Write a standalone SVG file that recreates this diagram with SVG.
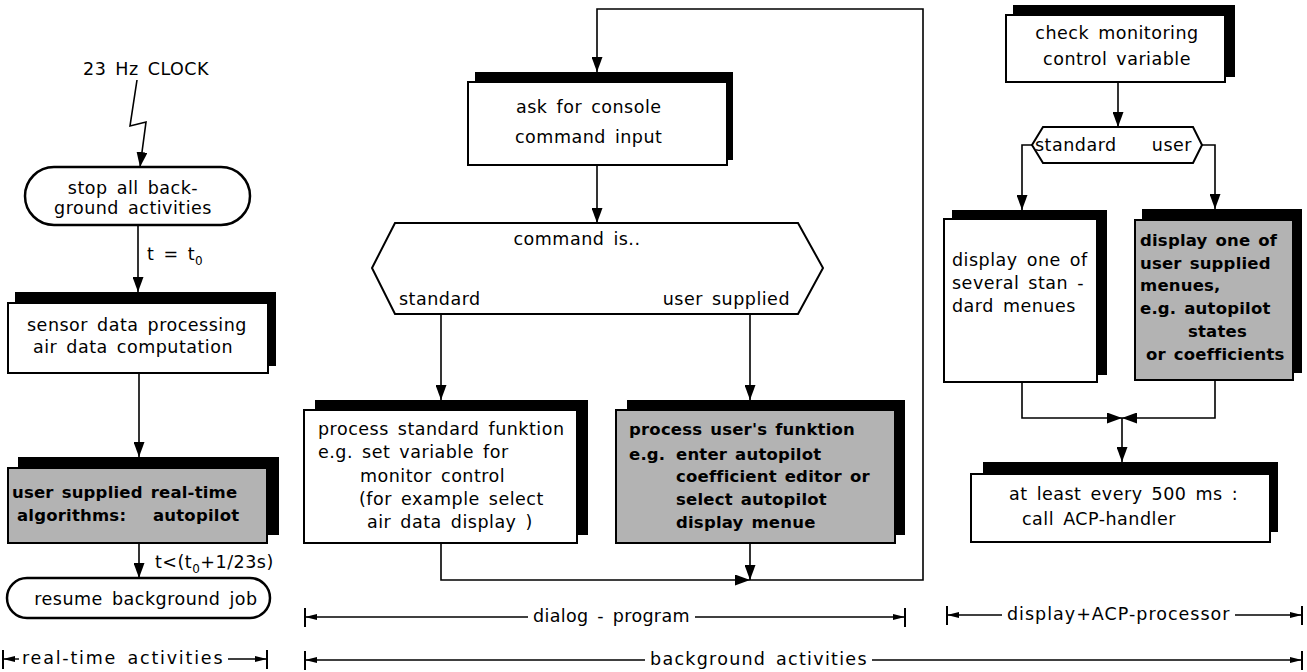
<svg xmlns="http://www.w3.org/2000/svg" width="1307" height="672" viewBox="0 0 1307 672">
<style>
.t{font-family:"DejaVu Sans","Liberation Sans",sans-serif;font-size:17.5px;letter-spacing:0.5px;word-spacing:3px;fill:#000}
.b{font-weight:bold;font-size:16.5px;letter-spacing:0.2px;word-spacing:2px}
.sh{fill:#000}
.fr{fill:#fff;stroke:#000;stroke-width:2}
.gr{fill:#b3b3b3;stroke:#000;stroke-width:2}
.ov{fill:#fff;stroke:#000;stroke-width:2.5}
.c{fill:none;stroke:#000;stroke-width:1.6}
.bar{fill:none;stroke:#000;stroke-width:1.4}
.tick{fill:none;stroke:#000;stroke-width:2}
</style>
<defs>
<marker id="ah" markerUnits="userSpaceOnUse" markerWidth="15" markerHeight="11" refX="15" refY="5.5" orient="auto">
<path d="M0,0 L15,5.5 L0,11 z" fill="#000"/>
</marker>
<marker id="sa" markerUnits="userSpaceOnUse" markerWidth="12" markerHeight="6" refX="12" refY="3" orient="auto">
<path d="M0,0 L12,3 L0,6 z" fill="#000"/>
</marker>
</defs>
<rect width="1307" height="672" fill="#fff"/>

<g id="clock">
<text class="t" x="83" y="75">23 Hz CLOCK</text>
</g>

<g id="stop">
<rect class="ov" x="25" y="167" width="225" height="58" rx="29"/>
<text class="t" x="133" y="194" text-anchor="middle">stop all back-</text>
<text class="t" x="133" y="214" text-anchor="middle">ground activities</text>
</g>

<g id="sensor">
<rect class="sh" x="15" y="292" width="261" height="74"/>
<rect class="fr" x="8" y="303" width="260" height="70"/>
<text class="t" x="27" y="331">sensor data processing</text>
<text class="t" x="33" y="353">air data computation</text>
</g>

<g id="realtime">
<rect class="sh" x="18" y="457" width="261" height="78"/>
<rect class="gr" x="8" y="468" width="259" height="75"/>
<text class="t b" x="12" y="498">user supplied real-time</text>
<text class="t b" y="521"><tspan x="17">algorithms:</tspan><tspan x="153">autopilot</tspan></text>
</g>

<g id="resume">
<rect class="ov" x="7" y="578" width="263" height="40" rx="20"/>
<text class="t" x="146" y="605" text-anchor="middle">resume background job</text>
</g>

<g id="ask">
<rect class="sh" x="475" y="72" width="258" height="88"/>
<rect class="fr" x="468" y="82" width="259" height="83"/>
<text class="t" x="516" y="113">ask for console</text>
<text class="t" x="515" y="143">command input</text>
</g>

<g id="command">
<polygon class="fr" points="395,223 798,223 823,268 798,314 395,314 372,268"/>
<text class="t" x="577" y="245" text-anchor="middle">command is..</text>
<text class="t" x="399" y="305">standard</text>
<text class="t" x="790" y="305" text-anchor="end">user supplied</text>
</g>

<g id="stdfunc">
<rect class="sh" x="315" y="400" width="273" height="135"/>
<rect class="fr" x="304" y="410" width="273" height="133"/>
<text class="t" x="318" y="435">process standard funktion</text>
<text class="t" x="318" y="458">e.g. set variable for</text>
<text class="t" x="360" y="482">monitor control</text>
<text class="t" x="359" y="505">(for example select</text>
<text class="t" x="367" y="528">air data display )</text>
</g>

<g id="userfunc">
<rect class="sh" x="627" y="400" width="278" height="135"/>
<rect class="gr" x="616" y="410" width="279" height="133"/>
<text class="t b" x="629" y="435">process user's funktion</text>
<text class="t b" y="460"><tspan x="629">e.g.</tspan><tspan x="676">enter autopilot</tspan></text>
<text class="t b" x="676" y="482">coefficient editor or</text>
<text class="t b" x="676" y="505">select autopilot</text>
<text class="t b" x="676" y="528">display menue</text>
</g>

<g id="check">
<rect class="sh" x="1013" y="5" width="222" height="72"/>
<rect class="fr" x="1006" y="15" width="219" height="67"/>
<text class="t" x="1117" y="39" text-anchor="middle">check monitoring</text>
<text class="t" x="1117" y="65" text-anchor="middle">control variable</text>
</g>

<g id="select">
<polygon class="fr" points="1043,127 1193,127 1202,145 1193,163 1043,163 1032,145"/>
<text class="t" x="1035" y="151">standard</text>
<text class="t" x="1192" y="151" text-anchor="end">user</text>
</g>

<g id="stdmenu">
<rect class="sh" x="952" y="210" width="155" height="165"/>
<rect class="fr" x="944" y="219" width="153" height="163"/>
<text class="t" x="952" y="266">display one of</text>
<text class="t" x="952" y="289">several stan -</text>
<text class="t" x="952" y="312">dard menues</text>
</g>

<g id="usermenu">
<rect class="sh" x="1142" y="209" width="160" height="164"/>
<rect class="gr" x="1135" y="220" width="158" height="160"/>
<text class="t b" x="1140" y="246">display one of</text>
<text class="t b" x="1140" y="269">user supplied</text>
<text class="t b" x="1140" y="291">menues,</text>
<text class="t b" x="1140" y="314">e.g. autopilot</text>
<text class="t b" x="1188" y="337">states</text>
<text class="t b" x="1146" y="360">or coefficients</text>
</g>

<g id="acp">
<rect class="sh" x="983" y="462" width="295" height="70"/>
<rect class="fr" x="971" y="474" width="299" height="68"/>
<text class="t" x="1009" y="500">at least every 500 ms :</text>
<text class="t" x="1022" y="525">call ACP-handler</text>
</g>

<g id="connectors">
<polyline class="c" points="137,80 130,126 146,122 140,167" marker-end="url(#ah)"/>
<path class="c" d="M138,225 L138,292" marker-end="url(#ah)"/>
<text class="t" x="147" y="260">t = t<tspan dy="5" font-size="12">0</tspan></text>
<path class="c" d="M139,373 L139,457" marker-end="url(#ah)"/>
<path class="c" d="M139,543 L139,578" marker-end="url(#ah)"/>
<text class="t" x="155" y="568">t&lt;(t<tspan dy="5" font-size="12">0</tspan><tspan dy="-5">+1/23s)</tspan></text>

<path class="c" d="M750,580 L923,580 L923,9 L597,9 L597,72" marker-end="url(#ah)"/>
<path class="c" d="M597,165 L597,223" marker-end="url(#ah)"/>
<path class="c" d="M441,314 L441,400" marker-end="url(#ah)"/>
<path class="c" d="M750,314 L750,400" marker-end="url(#ah)"/>
<path class="c" d="M441,543 L441,580 L750,580" marker-end="url(#ah)"/>
<path class="c" d="M750,543 L750,580" marker-end="url(#ah)"/>

<path class="c" d="M1118,82 L1118,127" marker-end="url(#ah)"/>
<path class="c" d="M1032,145 L1022,145 L1022,210" marker-end="url(#ah)"/>
<path class="c" d="M1202,145 L1215,145 L1215,209" marker-end="url(#ah)"/>
<path class="c" d="M1022,382 L1022,418 L1122,418" marker-end="url(#ah)"/>
<path class="c" d="M1215,380 L1215,418 L1122,418" marker-end="url(#ah)"/>
<path class="c" d="M1122,418 L1122,462" marker-end="url(#ah)"/>
</g>

<g id="scales">
<path class="tick" d="M3,650 L3,669 M267,650 L267,669"/>
<path class="bar" d="M19,659 L3,659" marker-end="url(#sa)"/>
<path class="bar" d="M228,659 L267,659" marker-end="url(#sa)"/>
<text class="t" x="22" y="664" textLength="201" lengthAdjust="spacing">real-time activities</text>

<path class="tick" d="M305,608 L305,627 M905,608 L905,627"/>
<path class="bar" d="M528,617 L305,617" marker-end="url(#sa)"/>
<path class="bar" d="M695,617 L905,617" marker-end="url(#sa)"/>
<text class="t" x="533" y="622" textLength="157" lengthAdjust="spacing">dialog - program</text>

<path class="tick" d="M947,606 L947,625 M1302,606 L1302,625"/>
<path class="bar" d="M1002,615 L947,615" marker-end="url(#sa)"/>
<path class="bar" d="M1235,615 L1302,615" marker-end="url(#sa)"/>
<text class="t" x="1007" y="620" textLength="223" lengthAdjust="spacing">display+ACP-processor</text>

<path class="tick" d="M305,651 L305,670 M1302,651 L1302,670"/>
<path class="bar" d="M645,660 L305,660" marker-end="url(#sa)"/>
<path class="bar" d="M872,660 L1302,660" marker-end="url(#sa)"/>
<text class="t" x="650" y="665" textLength="217" lengthAdjust="spacing">background activities</text>
</g>
</svg>
